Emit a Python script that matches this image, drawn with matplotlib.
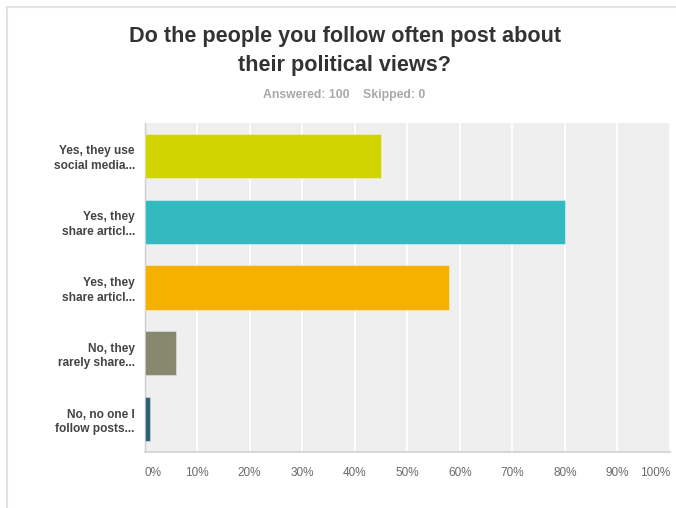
import matplotlib.pyplot as plt
from matplotlib.lines import Line2D

# survey answers (percent of respondents)
labels = [
    'Yes, they use\nsocial media...',
    'Yes, they\nshare articl...',
    'Yes, they\nshare articl...',
    'No, they\nrarely share...',
    'No, no one I\nfollow posts...',
]
values = [45, 80, 58, 6, 1]
colors = ['#d1d400', '#35b9c0', '#f6b000', '#87896f', '#2d5f73']
ticks = [0, 10, 20, 30, 40, 50, 60, 70, 80, 90, 100]
tick_labels = [f'{t}%' for t in ticks]

title = 'Do the people you follow often post about\ntheir political views?'
subtitle = 'Answered: 100    Skipped: 0'

plt.rcParams['font.family'] = ['Liberation Sans', 'DejaVu Sans']

W, H = 676, 508
fig = plt.figure(figsize=(W / 100, H / 100), dpi=100)

# plot box in pixels: x 144..670, y 123..452
ax = fig.add_axes([144.5 / W, (H - 452) / H, 525.5 / W, 329 / H])
ax.set_facecolor('#efefef')

pos = list(range(len(values)))
ax.barh(pos, values, height=0.67, color=colors,
        edgecolor=(1, 1, 1, 0.35), linewidth=0.8, zorder=3)

ax.set_xlim(0, 100)
ax.set_ylim(len(values) - 0.5, -0.5)
ax.set_xticks(ticks)
ax.set_xticklabels(tick_labels, fontsize=8.5, color='#6a6a6a')
ax.xaxis.grid(True, color='white', linewidth=1.3, zorder=0)
ax.set_axisbelow(True)
ax.tick_params(axis='x', length=0, pad=11)
xtl = ax.get_xticklabels()
xtl[0].set_horizontalalignment('left')
xtl[-1].set_horizontalalignment('right')

ax.set_yticks(pos)
ax.set_yticklabels(labels, fontsize=8.6, fontweight='bold', color='#444444',
                   linespacing=1.3)
ax.tick_params(axis='y', length=0, pad=7)

for side in ['top', 'right']:
    ax.spines[side].set_visible(False)
ax.spines['left'].set_color('#cccccc')
ax.spines['left'].set_linewidth(1.0)
ax.spines['bottom'].set_color('#d8d8d8')
ax.spines['bottom'].set_linewidth(1.5)

fig.text(345 / W, 1 - 51 / H, title, ha='center', va='center',
         fontsize=15.6, fontweight='bold', color='#333333', linespacing=1.45)
fig.text(344.5 / W, 1 - 95 / H, subtitle, ha='center', va='center',
         fontsize=8.8, fontweight='bold', color='#a8a8a8')

# light frame round the panel (cut at right and bottom)
fig.add_artist(Line2D([6.5 / W, 6.5 / W], [0, 1 - 6.5 / H],
                      transform=fig.transFigure, color='#e2e2e2', linewidth=1.5))
fig.add_artist(Line2D([6.5 / W, 1], [1 - 6.5 / H, 1 - 6.5 / H],
                      transform=fig.transFigure, color='#e2e2e2', linewidth=1.5))

fig.savefig('out.png', dpi=100)
